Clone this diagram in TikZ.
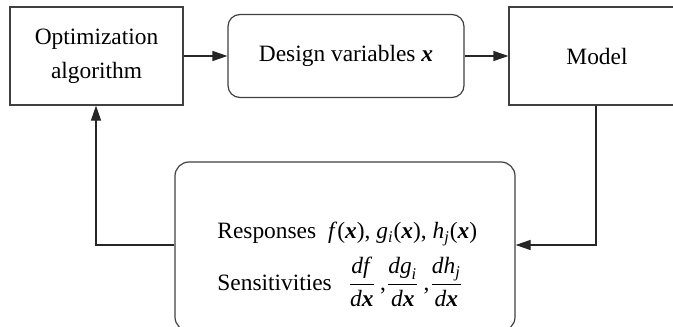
\documentclass[tikz,border=0pt]{standalone}
\usepackage{amsmath}
\usepackage{fontspec}
\setmainfont{Liberation Serif}
\usetikzlibrary{arrows.meta}

\newcommand{\vx}{\textbf{\textit{x}}}
\newcommand{\ti}[1]{\textit{#1}}

\tikzset{
	box/.style={draw=black!75, line width=0.6pt, inner sep=0pt, align=center},
	flow/.style={draw=black!85, line width=0.6pt, -{Triangle[length=7.5pt,width=5pt]}}
}

\begin{document}
\begin{tikzpicture}[x=0.5pt, y=-0.5pt, font=\fontsize{11.7}{14}\selectfont]
		\clip (0,0) rectangle (673,326);

		% Top row of blocks
		\node (opt) [box, minimum width=86.5pt, minimum height=49pt, font=\fontsize{11.7}{17}\selectfont] at (96.5,56) {Optimization\\algorithm};
		\node (design) [box, rounded corners=6pt, minimum width=118pt, minimum height=41.5pt] at (346,56) {Design variables \vx};
		\node (model) [box, minimum width=88pt, minimum height=49pt] at (597,56) {Model};

		% Responses and sensitivities
		\node (resp) [box, rounded corners=7pt, minimum width=170pt, minimum height=84.5pt] at (345,246.5) {};
		\node (rtext) [anchor=west, inner sep=0pt] at (217,234) {Responses\hspace{6pt}\ti{f}(\vx), \ti{g}$_{\ti{i}}$(\vx), \ti{h}$_{\ti{j}}$(\vx)};
		\node (stext) [anchor=west, inner sep=0pt] at (217,282) {Sensitivities\hspace{8pt}$\dfrac{\text{\ti{df}}}{\text{\ti{d}\vx}}\,\text{,}\dfrac{\text{\ti{dg}}_{\text{\ti{i}}}}{\text{\ti{d}\vx}}\,\text{,}\dfrac{\text{\ti{dh}}_{\text{\ti{j}}}}{\text{\ti{d}\vx}}$};

		% Bend points of the loop
		\coordinate (mdown) at (596,245);
		\coordinate (oleft) at (96,245);

		% Connectors
		\draw[flow] (opt) -- (design);
		\draw[flow] (design) -- (model);
		\draw[flow] (model.south -| mdown) -- (mdown) -- (resp.east |- mdown);
		\draw[flow] (resp.west |- oleft) -- (oleft) -- (opt.south -| oleft);
\end{tikzpicture}
\end{document}
